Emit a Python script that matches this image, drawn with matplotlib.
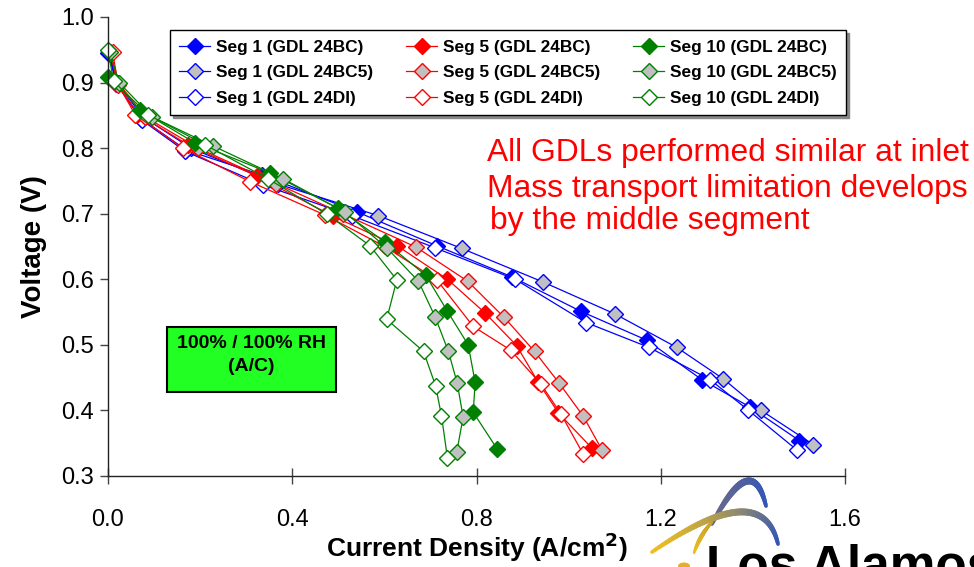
import numpy as np
import matplotlib
matplotlib.use("Agg")
import matplotlib.pyplot as plt
from matplotlib.patches import Rectangle, Circle
from matplotlib.collections import LineCollection

plt.rcParams['font.family'] = ['Liberation Sans', 'DejaVu Sans']

# Polarization curves: current density (A/cm2) vs. cell voltage (V)
seg1_bc_x = [0.000, 0.018, 0.072, 0.170, 0.334, 0.540, 0.714, 0.876, 1.027, 1.170, 1.289, 1.394, 1.501]
seg1_bc_y = [0.945, 0.900, 0.845, 0.797, 0.759, 0.703, 0.651, 0.604, 0.551, 0.507, 0.447, 0.405, 0.354]
seg1_bc5_x = [0.002, 0.020, 0.075, 0.180, 0.370, 0.587, 0.768, 0.944, 1.101, 1.235, 1.336, 1.418, 1.531]
seg1_bc5_y = [0.946, 0.900, 0.848, 0.800, 0.745, 0.697, 0.647, 0.596, 0.547, 0.496, 0.448, 0.400, 0.348]
seg1_di_x = [0.004, 0.018, 0.073, 0.168, 0.336, 0.529, 0.710, 0.884, 1.038, 1.175, 1.307, 1.389, 1.495]
seg1_di_y = [0.943, 0.898, 0.843, 0.795, 0.744, 0.697, 0.648, 0.600, 0.534, 0.496, 0.447, 0.401, 0.340]

seg5_bc_x = [0.006, 0.020, 0.065, 0.174, 0.324, 0.489, 0.628, 0.737, 0.818, 0.887, 0.934, 0.978, 1.050]
seg5_bc_y = [0.945, 0.898, 0.852, 0.805, 0.757, 0.696, 0.651, 0.600, 0.549, 0.499, 0.443, 0.396, 0.343]
seg5_bc5_x = [0.004, 0.022, 0.080, 0.196, 0.365, 0.510, 0.669, 0.781, 0.860, 0.926, 0.979, 1.032, 1.073]
seg5_bc5_y = [0.947, 0.900, 0.848, 0.800, 0.746, 0.700, 0.649, 0.597, 0.542, 0.490, 0.442, 0.391, 0.339]
seg5_di_x = [0.010, 0.022, 0.059, 0.163, 0.308, 0.471, 0.601, 0.714, 0.793, 0.874, 0.940, 0.983, 1.032]
seg5_di_y = [0.947, 0.897, 0.851, 0.800, 0.749, 0.698, 0.650, 0.599, 0.528, 0.492, 0.440, 0.395, 0.333]

seg10_bc_x = [0.000, 0.015, 0.069, 0.189, 0.352, 0.500, 0.601, 0.690, 0.737, 0.782, 0.797, 0.793, 0.845]
seg10_bc_y = [0.908, 0.902, 0.858, 0.808, 0.762, 0.708, 0.657, 0.606, 0.551, 0.500, 0.443, 0.397, 0.341]
seg10_bc5_x = [0.004, 0.024, 0.095, 0.229, 0.381, 0.515, 0.605, 0.674, 0.710, 0.739, 0.758, 0.771, 0.757]
seg10_bc5_y = [0.947, 0.900, 0.848, 0.803, 0.753, 0.702, 0.648, 0.597, 0.543, 0.490, 0.442, 0.390, 0.336]
seg10_di_x = [0.000, 0.012, 0.087, 0.211, 0.348, 0.476, 0.569, 0.627, 0.605, 0.685, 0.711, 0.724, 0.737]
seg10_di_y = [0.950, 0.902, 0.851, 0.805, 0.753, 0.699, 0.651, 0.599, 0.539, 0.490, 0.438, 0.392, 0.327]

x_ticks = [0.0, 0.4, 0.8, 1.2, 1.6]
y_ticks = [0.3, 0.4, 0.5, 0.6, 0.7, 0.8, 0.9, 1.0]

W, H = 974, 567
fig = plt.figure(figsize=(W / 100, H / 100), dpi=100)


def fx(px):
    return px / W


def fy(py):
    return 1 - py / H


ax = fig.add_axes([fx(108), fy(476), fx(845) - fx(108), fy(17) - fy(476)])

BLUE, RED, GREEN, GRAY = '#0000FF', '#FF0000', '#008000', '#C0C0C0'

series = [
    (seg1_bc_x, seg1_bc_y, BLUE, BLUE, 'Seg 1 (GDL 24BC)'),
    (seg1_bc5_x, seg1_bc5_y, BLUE, GRAY, 'Seg 1 (GDL 24BC5)'),
    (seg1_di_x, seg1_di_y, BLUE, 'white', 'Seg 1 (GDL 24DI)'),
    (seg5_bc_x, seg5_bc_y, RED, RED, 'Seg 5 (GDL 24BC)'),
    (seg5_bc5_x, seg5_bc5_y, RED, GRAY, 'Seg 5 (GDL 24BC5)'),
    (seg5_di_x, seg5_di_y, RED, 'white', 'Seg 5 (GDL 24DI)'),
    (seg10_bc_x, seg10_bc_y, GREEN, GREEN, 'Seg 10 (GDL 24BC)'),
    (seg10_bc5_x, seg10_bc5_y, GREEN, GRAY, 'Seg 10 (GDL 24BC5)'),
    (seg10_di_x, seg10_di_y, GREEN, 'white', 'Seg 10 (GDL 24DI)'),
]

for xs, ys, col, face, lab in series:
    ax.plot(xs, ys, color=col, lw=0.9, marker='D', ms=7.8,
            mfc=face, mec=col, mew=1.0, label=lab, clip_on=False)

ax.set_xlim(0.0, 1.6)
ax.set_ylim(0.3, 1.0)
ax.set_xticks(x_ticks)
ax.set_xticklabels([f'{v:.1f}' for v in x_ticks])
ax.set_yticks(y_ticks)
ax.set_yticklabels([f'{v:.1f}' for v in y_ticks])
for s in ('top', 'right'):
    ax.spines[s].set_visible(False)
for s in ('left', 'bottom'):
    ax.spines[s].set_color('#222222')
    ax.spines[s].set_linewidth(1.0)
ax.tick_params(axis='x', direction='inout', length=11, width=1.0, color='#444444',
               labelsize=17, pad=18)
ax.tick_params(axis='y', direction='out', length=6, width=1.0, color='#444444',
               labelsize=17, pad=4)

ax.set_xlabel('Current Density (A/cm$\\mathbf{^2}$)', fontsize=19, fontweight='bold', labelpad=0)
ax.set_ylabel('Voltage (V)', fontsize=20, fontweight='bold', labelpad=10)

leg = fig.legend(loc='upper left', bbox_to_anchor=(fx(170), fy(30)), ncol=3,
                 prop={'weight': 'bold', 'size': 12.4}, frameon=True, fancybox=False,
                 shadow={'color': '#888888', 'alpha': 1.0}, edgecolor='black',
                 borderaxespad=0, handlelength=1.8, handletextpad=0.3,
                 columnspacing=1.95, labelspacing=0.62, borderpad=0.55)
leg.get_frame().set_linewidth(1.0)

# Red commentary
for txt, py, px in [('All GDLs performed similar at inlet', 153, 487),
                    ('Mass transport limitation develops', 189, 487),
                    ('by the middle segment', 221, 490)]:
    fig.text(fx(px), fy(py), txt, color='#FF0000', fontsize=22.9, va='center', ha='left')

# Operating condition box
fig.patches.append(Rectangle((fx(167), fy(392)), fx(336) - fx(167), fy(327) - fy(392),
                             transform=fig.transFigure, facecolor='#22FF22',
                             edgecolor='black', lw=1.5, zorder=5))
fig.text(fx(251.5), fy(355), '100% / 100% RH\n(A/C)', ha='center', va='center',
         fontsize=14, fontweight='bold', linespacing=1.5, zorder=6)

# Laboratory logo (lower right)
def quad(p0, p1, p2, n=60):
    t = np.linspace(0, 1, n)[:, None]
    p0, p1, p2 = map(np.asarray, (p0, p1, p2))
    return (1 - t) ** 2 * p0 + 2 * (1 - t) * t * p1 + t ** 2 * p2


def to_fig(pts):
    return np.column_stack([pts[:, 0] / W, 1 - pts[:, 1] / H])


def grad_curve(pts, c0, c1, lw):
    p = to_fig(pts)
    segs = np.stack([p[:-1], p[1:]], axis=1)
    c0 = np.array(matplotlib.colors.to_rgb(c0))
    c1 = np.array(matplotlib.colors.to_rgb(c1))
    t = np.linspace(0, 1, len(segs))[:, None]
    cols = (1 - t) * c0 + t * c1
    widths = lw * (0.35 + 0.65 * np.sin(np.pi * np.linspace(0.1, 0.9, len(segs))))
    lc = LineCollection(segs, colors=cols, linewidths=widths, transform=fig.transFigure,
                        capstyle='round')
    fig.add_artist(lc)


grad_curve(quad((712, 524), (752, 448), (766, 506)), '#6a6a8a', '#3356b8', 5)
grad_curve(quad((652, 552), (762, 476), (778, 544)), '#f0c020', '#3356b8', 5)
grad_curve(quad((694, 553), (700, 535), (712, 522)), '#f0c020', '#c8a030', 3)
fig.patches.append(Circle((fx(684), fy(566)), 6 / W, transform=fig.transFigure,
                          facecolor='#e8b020', edgecolor='none'))
fig.text(fx(706), fy(581), 'Los Alamos', fontsize=37, fontweight='bold',
         color='black', va='baseline', ha='left')

fig.savefig('out.png', dpi=100)
